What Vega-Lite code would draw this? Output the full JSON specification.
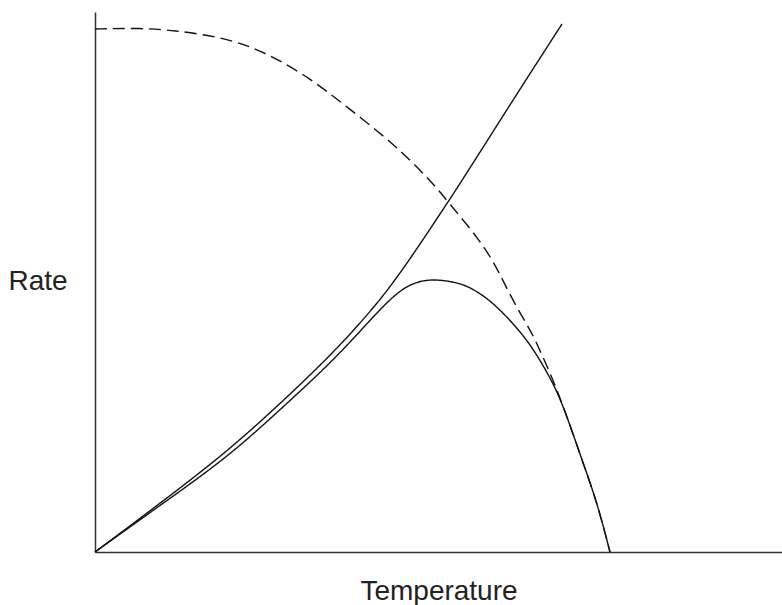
{
  "$schema": "https://vega.github.io/schema/vega-lite/v6.json",
  "width": 687,
  "height": 540,
  "autosize": "none",
  "padding": {"left": 95, "top": 12, "right": 0, "bottom": 53},
  "background": "white",
  "config": {"view": {"stroke": null}, "font": "Liberation Sans"},
  "data": {
    "values": [
      {"curve": "A", "x": 0, "y": 0},
      {"curve": "A", "x": 67, "y": 50},
      {"curve": "A", "x": 133, "y": 101},
      {"curve": "A", "x": 187, "y": 150},
      {"curve": "A", "x": 235, "y": 196},
      {"curve": "A", "x": 270, "y": 234},
      {"curve": "A", "x": 302, "y": 273},
      {"curve": "A", "x": 353, "y": 350},
      {"curve": "A", "x": 368, "y": 373},
      {"curve": "A", "x": 425, "y": 463},
      {"curve": "A", "x": 467, "y": 528},
      {"curve": "B", "x": 0, "y": 0},
      {"curve": "B", "x": 67, "y": 48},
      {"curve": "B", "x": 133, "y": 95},
      {"curve": "B", "x": 187, "y": 144},
      {"curve": "B", "x": 240, "y": 193},
      {"curve": "B", "x": 275, "y": 232},
      {"curve": "B", "x": 302, "y": 260},
      {"curve": "B", "x": 320, "y": 270},
      {"curve": "B", "x": 338, "y": 273},
      {"curve": "B", "x": 360, "y": 270},
      {"curve": "B", "x": 375, "y": 265},
      {"curve": "B", "x": 395, "y": 252},
      {"curve": "B", "x": 415, "y": 232},
      {"curve": "B", "x": 432, "y": 212},
      {"curve": "B", "x": 445, "y": 192},
      {"curve": "B", "x": 462, "y": 162},
      {"curve": "B", "x": 475, "y": 127},
      {"curve": "B", "x": 487, "y": 92},
      {"curve": "B", "x": 502, "y": 50},
      {"curve": "B", "x": 515, "y": 0},
      {"curve": "C", "x": 0, "y": 523},
      {"curve": "C", "x": 40, "y": 524},
      {"curve": "C", "x": 78, "y": 522},
      {"curve": "C", "x": 132, "y": 514},
      {"curve": "C", "x": 172, "y": 499},
      {"curve": "C", "x": 215, "y": 474},
      {"curve": "C", "x": 252, "y": 445},
      {"curve": "C", "x": 298, "y": 409},
      {"curve": "C", "x": 337, "y": 370},
      {"curve": "C", "x": 353, "y": 350},
      {"curve": "C", "x": 385, "y": 312},
      {"curve": "C", "x": 402, "y": 284},
      {"curve": "C", "x": 412, "y": 263},
      {"curve": "C", "x": 425, "y": 239},
      {"curve": "C", "x": 437, "y": 219},
      {"curve": "C", "x": 447, "y": 197},
      {"curve": "C", "x": 455, "y": 179},
      {"curve": "C", "x": 462, "y": 162},
      {"curve": "C", "x": 475, "y": 127},
      {"curve": "C", "x": 487, "y": 92},
      {"curve": "C", "x": 502, "y": 50},
      {"curve": "C", "x": 515, "y": 0}
    ]
  },
  "mark": {"type": "line", "interpolate": "basis", "color": "#111111", "strokeWidth": 1.4},
  "encoding": {
    "x": {
      "field": "x",
      "type": "quantitative",
      "scale": {"domain": [0, 687], "nice": false, "zero": false},
      "axis": {
        "title": "Temperature",
        "grid": false,
        "ticks": false,
        "labels": false,
        "domainColor": "#333333",
        "domainWidth": 1.5,
        "titleFontSize": 28,
        "titleFontWeight": "normal",
        "titleColor": "#222222",
        "titleX": 343.5,
        "titleY": 47,
        "titleAlign": "center",
        "titleBaseline": "alphabetic"
      }
    },
    "y": {
      "field": "y",
      "type": "quantitative",
      "scale": {"domain": [0, 540], "nice": false, "zero": false},
      "axis": {
        "title": "Rate",
        "grid": false,
        "ticks": false,
        "labels": false,
        "domainColor": "#333333",
        "domainWidth": 1.5,
        "titleFontSize": 28,
        "titleFontWeight": "normal",
        "titleColor": "#222222",
        "titleAngle": 0,
        "titleX": -87,
        "titleY": 277,
        "titleAlign": "left",
        "titleBaseline": "alphabetic"
      }
    },
    "detail": {"field": "curve", "type": "nominal"},
    "strokeDash": {
      "field": "curve",
      "type": "nominal",
      "scale": {"domain": ["A", "B", "C"], "range": [[1, 0], [1, 0], [12, 6]]},
      "legend": null
    }
  }
}
